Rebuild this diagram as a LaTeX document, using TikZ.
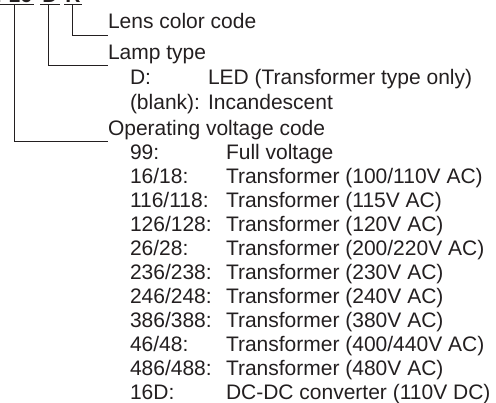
\documentclass[tikz,border=0pt]{standalone}
\usepackage{fontspec}
\setmainfont{Liberation Sans}
\definecolor{ink}{HTML}{231F20}
\begin{document}
\begin{tikzpicture}[x=1pt,y=-1pt,
  txt/.style={anchor=base west,inner sep=0pt,outer sep=0pt,text=ink,font=\fontsize{21}{24}\selectfont},
  code/.style={anchor=base,inner sep=0pt,text=ink,font=\fontsize{21}{24}\selectfont\bfseries},
  conn/.style={draw=ink,line width=0.9pt}]
\useasboundingbox (0,0) rectangle (496,403);
\clip (0,0) rectangle (496,403);
% model code (clipped at top)
\node[code] (c1) at (14,3) {F16};
\node[code] (c2) at (50,3) {D};
\node[code] (c3) at (73,3) {R};
\coordinate (u1a) at (-2,4.5); \coordinate (u1b) at (34,4.5);
\coordinate (u2a) at (40,4.5); \coordinate (u2b) at (60,4.5);
\coordinate (u3a) at (64,4.5); \coordinate (u3b) at (82,4.5);
\draw[conn] (u1a) -- (u1b);
\draw[conn] (u2a) -- (u2b);
\draw[conn] (u3a) -- (u3b);
% level-1 labels
\def\ls{25.2}
\def\rs{24.0}
\node[txt] (lens) at (108,29) {Lens color code};
\node[txt] (lamp) at (108,59.5) {Lamp type};
\node[txt] (lD) at (130,59.5+1*\ls) {D:};
\node[txt] (lDd) at (208,59.5+1*\ls) {LED (Transformer type only)};
\node[txt] (lB) at (130,59.5+2*\ls) {(blank):};
\node[txt] (lBd) at (208,59.5+2*\ls) {Incandescent};
\node[txt] (volt) at (108,59.5+3*\ls) {Operating voltage code};
\foreach \k/\c/\d [count=\i from 1] in {
  99/99:/Full voltage,
  a/16\slash 18:/Transformer (100\slash 110V AC),
  b/116\slash 118:/Transformer (115V AC),
  c/126\slash 128:/Transformer (120V AC),
  d/26\slash 28:/Transformer (200\slash 220V AC),
  e/236\slash 238:/Transformer (230V AC),
  f/246\slash 248:/Transformer (240V AC),
  g/386\slash 388:/Transformer (380V AC),
  h/46\slash 48:/Transformer (400\slash 440V AC),
  i/486\slash 488:/Transformer (480V AC),
  j/16D:/DC-DC converter (110V DC)}{
  \node[txt] (v\k) at (130,59.5+3*\ls+\i*\rs) {\c};
  \node[txt] (w\k) at (226,59.5+3*\ls+\i*\rs) {\d};
}
% connectors
\draw[conn] (72,4.5) |- ([yshift=-6.3pt]lens.base west);
\draw[conn] (48,4.5) |- ([yshift=-6.3pt]lamp.base west);
\draw[conn] (14,4.5) |- ([yshift=-6.3pt]volt.base west);
\end{tikzpicture}
\end{document}
